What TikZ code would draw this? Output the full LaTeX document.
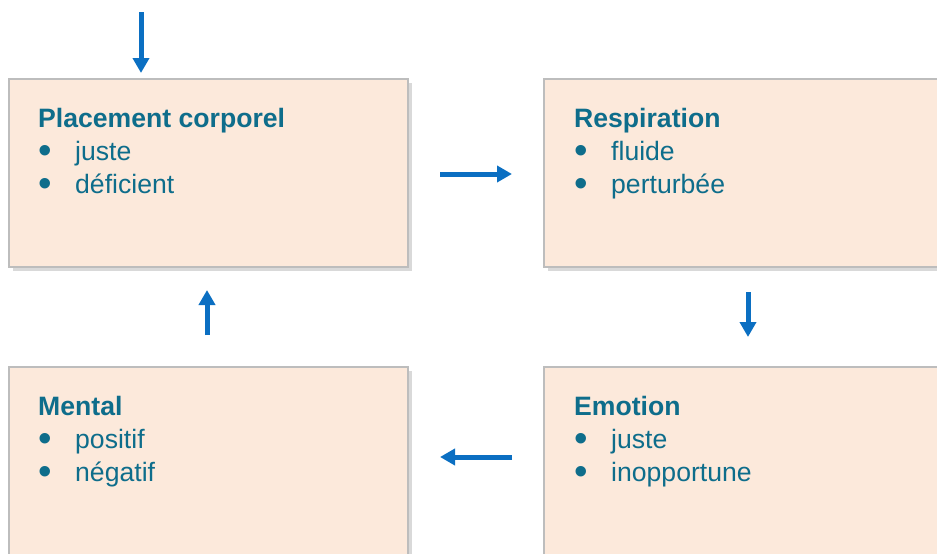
\documentclass[tikz,border=0pt]{standalone}
\usepackage{graphicx}
\usepackage{fontspec}
\setmainfont{Liberation Sans}
\usetikzlibrary{positioning,shadows,arrows.meta}

\definecolor{boxfill}{HTML}{FCE9DB}
\definecolor{boxline}{HTML}{BDBDBD}
\definecolor{titlecol}{HTML}{0E6D8B}
\definecolor{arrowcol}{HTML}{0B6FC2}

\newcommand{\bulitem}[1]{\makebox[37pt][l]{\raisebox{-3.5pt}{\scalebox{1.45}{\textbullet}}}#1}

\begin{document}
\begin{tikzpicture}[
        x=1pt, y=-1pt,
        box/.style={rectangle, draw=boxline, line width=1.5pt, fill=boxfill, minimum width=399pt, minimum height=188pt, anchor=north west,
            drop shadow={shadow xshift=4pt, shadow yshift=-4pt, opacity=0.3}},
        boxtext/.style={anchor=north west, align=left, inner sep=0pt, text=titlecol, font=\fontsize{26.6}{33}\selectfont},
        arrow/.style={-{Triangle[length=15pt, width=16pt]}, line width=5pt, draw=arrowcol}
    ]
        \useasboundingbox (0,0) rectangle (937,554);

        % Blocks
        \node[box] (placement) at (8,78) {};
        \node[box] (respiration) at (543,78) {};
        \node[box] (mental) at (8,366) {};
        \node[box] (emotion) at (543,366) {};

        % Texts
        \node[boxtext] (placementtext) at ([xshift=30pt, yshift=-30pt]placement.north west) {\textbf{Placement corporel}\\ \bulitem{juste}\\ \bulitem{déficient}};
        \node[boxtext] (respirationtext) at ([xshift=31pt, yshift=-30pt]respiration.north west) {\textbf{Respiration}\\ \bulitem{fluide}\\ \bulitem{perturbée}};
        \node[boxtext] (mentaltext) at ([xshift=30pt, yshift=-30pt]mental.north west) {\textbf{Mental}\\ \bulitem{positif}\\ \bulitem{négatif}};
        \node[boxtext] (emotiontext) at ([xshift=31pt, yshift=-30pt]emotion.north west) {\textbf{Emotion}\\ \bulitem{juste}\\ \bulitem{inopportune}};

        % Arrow ends
        \coordinate (start) at (141,12);
        \coordinate (starttip) at (141,73);
        \coordinate (pr1) at (440,174);
        \coordinate (pr2) at (512,174);
        \coordinate (re1) at (748,292);
        \coordinate (re2) at (748,337);
        \coordinate (em1) at (512,457);
        \coordinate (em2) at (440,457);
        \coordinate (mp1) at (207,335);
        \coordinate (mp2) at (207,290);

        % Arrows
        \draw[arrow] (start) -- (starttip);
        \draw[arrow] (pr1) -- (pr2);
        \draw[arrow] (re1) -- (re2);
        \draw[arrow] (em1) -- (em2);
        \draw[arrow] (mp1) -- (mp2);

    \end{tikzpicture}
\end{document}
